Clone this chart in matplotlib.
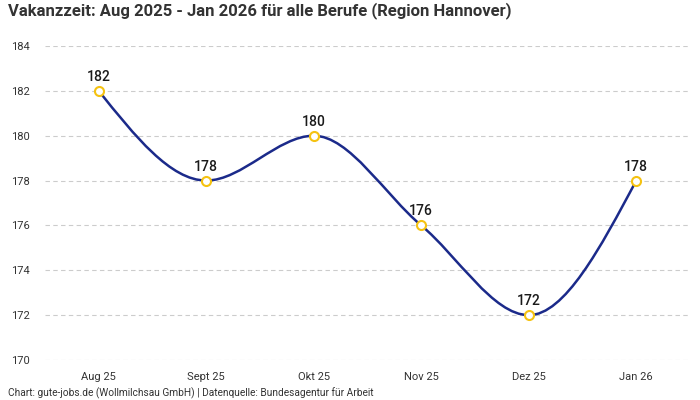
import matplotlib
matplotlib.use('Agg')
import matplotlib.pyplot as plt
from matplotlib.path import Path
from matplotlib.patches import PathPatch
import numpy as np

plt.rcParams['font.family'] = ['Roboto', 'DejaVu Sans']

months = ['Aug 25', 'Sept 25', 'Okt 25', 'Nov 25', 'Dez 25', 'Jan 26']
days = [182, 178, 180, 176, 172, 178]
yticks = [170, 172, 174, 176, 178, 180, 182, 184]

title = 'Vakanzzeit: Aug 2025 - Jan 2026 für alle Berufe (Region Hannover)'
footer = 'Chart: gute-jobs.de (Wollmilchsau GmbH) | Datenquelle: Bundesagentur für Arbeit'

LINE = '#1b2a8a'
GOLD = '#f5c211'


def monotone_path(x, y):
    # cubic bezier path like a monotone-x curve
    x = np.asarray(x, float)
    y = np.asarray(y, float)
    h = np.diff(x)
    s = np.diff(y) / h
    t = np.zeros(len(x))
    for i in range(1, len(x) - 1):
        s0, s1 = s[i - 1], s[i]
        p = (s0 * h[i] + s1 * h[i - 1]) / (h[i - 1] + h[i])
        t[i] = (np.sign(s0) + np.sign(s1)) * min(abs(s0), abs(s1), 0.5 * abs(p))
    t[0] = (3 * s[0] - t[1]) / 2
    t[-1] = (3 * s[-1] - t[-2]) / 2
    verts = [(x[0], y[0])]
    codes = [Path.MOVETO]
    for i in range(len(x) - 1):
        d = h[i] / 3
        verts += [(x[i] + d, y[i] + d * t[i]),
                  (x[i + 1] - d, y[i + 1] - d * t[i + 1]),
                  (x[i + 1], y[i + 1])]
        codes += [Path.CURVE4] * 3
    return Path(verts, codes)


fig = plt.figure(figsize=(7, 4), dpi=100)
ax = fig.add_axes([45 / 700, 40 / 400, 645 / 700, 314 / 400])

xs = np.arange(len(months))
ax.add_patch(PathPatch(monotone_path(xs, days), facecolor='none',
                       edgecolor=LINE, lw=1.8, zorder=3))
ax.plot(xs, days, linestyle='none', marker='o', markersize=6.5,
        markerfacecolor='white', markeredgecolor=GOLD, markeredgewidth=1.5, zorder=4)

for x, v in zip(xs, days):
    ax.annotate(str(v), (x, v), xytext=(0, 5), textcoords='offset points',
                ha='center', va='bottom', fontsize=10, fontweight='medium', color='#1a1a1a')

ax.set_xlim(-0.5, len(months) - 0.5)
ax.set_ylim(170, 184)
ax.set_xticks(xs)
ax.set_xticklabels(months)
ax.set_yticks(yticks)
ax.tick_params(length=0, labelsize=8, colors='#333333')
ax.tick_params(axis='x', pad=9)
ax.tick_params(axis='y', pad=11)
ax.grid(axis='y', color='#cccccc', linestyle=(0, (4, 3)), lw=0.8)
for sp in ax.spines.values():
    sp.set_visible(False)

fig.text(8 / 700, 1 - 11 / 400, title, fontsize=12, fontweight='bold',
         color='#333333', ha='left', va='center')
fig.text(8 / 700, 1 - 393 / 400, footer, fontsize=7.3, color='#333333',
         ha='left', va='center')

fig.savefig('out.png', dpi=100)
